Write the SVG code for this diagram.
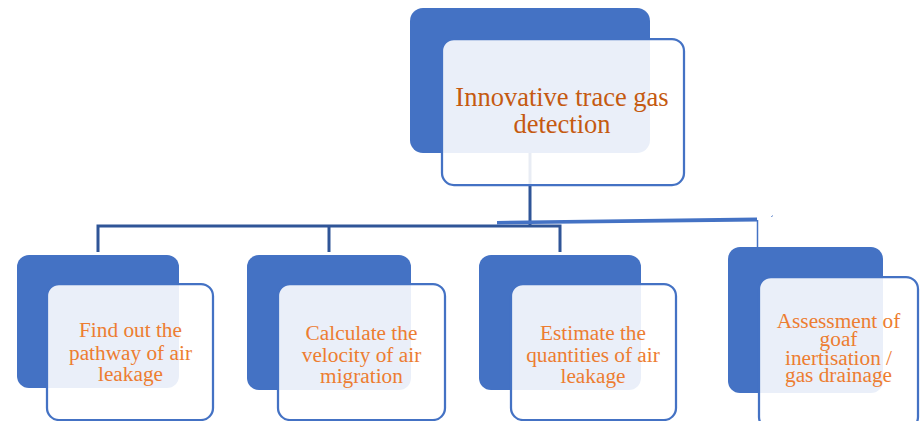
<svg xmlns="http://www.w3.org/2000/svg" width="922" height="421" viewBox="0 0 922 421">
<style>
.back{fill:#4472C4;}
.front{fill:#FFFFFF;fill-opacity:0.89;stroke:#4472C4;stroke-width:2.25;}
.conn{stroke:#2F5597;stroke-width:3;fill:none;}
.t1{font-family:"Liberation Serif","Times New Roman",serif;font-size:26.5px;fill:#C55A11;text-anchor:middle;}
.t2{font-family:"Liberation Serif","Times New Roman",serif;font-size:21.3px;fill:#ED7D31;text-anchor:middle;}
</style>
<rect width="922" height="421" fill="#FFFFFF"/>
<g id="connectors">
  <line class="conn" x1="530" y1="153" x2="530" y2="226"/>
  <polyline class="conn" points="98,252 98,226 560,226 560,252"/>
  <line class="conn" x1="329" y1="226" x2="329" y2="252"/>
  <polygon points="497,221 757,217.5 757,221.5 497,224.5" fill="#4472C4"/>
  <line x1="757.5" y1="220" x2="757.5" y2="249" stroke="#4472C4" stroke-width="1.5"/>
  <line x1="771.5" y1="217" x2="772.5" y2="215.5" stroke="#4472C4" stroke-width="1"/>
</g>
<g id="node-top">
  <rect class="back" x="410" y="8" width="240" height="145" rx="13"/>
  <rect class="front" x="442" y="39" width="242" height="146" rx="12"/>
  <text class="t1" x="562" y="106">Innovative trace gas</text>
  <text class="t1" x="562" y="133">detection</text>
</g>
<g id="node-1">
  <rect class="back" x="17" y="255" width="162" height="133" rx="12"/>
  <rect class="front" x="47" y="284" width="166" height="136" rx="12"/>
  <text class="t2" x="130.5" y="337">Find out the</text>
  <text class="t2" x="130.5" y="360">pathway of air</text>
  <text class="t2" x="130.5" y="381">leakage</text>
</g>
<g id="node-2">
  <rect class="back" x="247" y="255" width="164" height="135" rx="12"/>
  <rect class="front" x="278" y="284" width="167" height="136" rx="12"/>
  <text class="t2" x="361.5" y="340">Calculate the</text>
  <text class="t2" x="361.5" y="362">velocity of air</text>
  <text class="t2" x="361.5" y="383">migration</text>
</g>
<g id="node-3">
  <rect class="back" x="479" y="255" width="162" height="135" rx="12"/>
  <rect class="front" x="511" y="284" width="165" height="136" rx="12"/>
  <text class="t2" x="593" y="340">Estimate the</text>
  <text class="t2" x="593" y="362">quantities of air</text>
  <text class="t2" x="593" y="383">leakage</text>
</g>
<g id="node-4">
  <rect class="back" x="728" y="247" width="155" height="146" rx="12"/>
  <rect class="front" x="759" y="277" width="159" height="152" rx="12"/>
  <text class="t2" x="838.5" y="328">Assessment of</text>
  <text class="t2" x="838.5" y="346">goaf</text>
  <text class="t2" x="838.5" y="365">inertisation /</text>
  <text class="t2" x="838.5" y="382">gas drainage</text>
</g>
</svg>
